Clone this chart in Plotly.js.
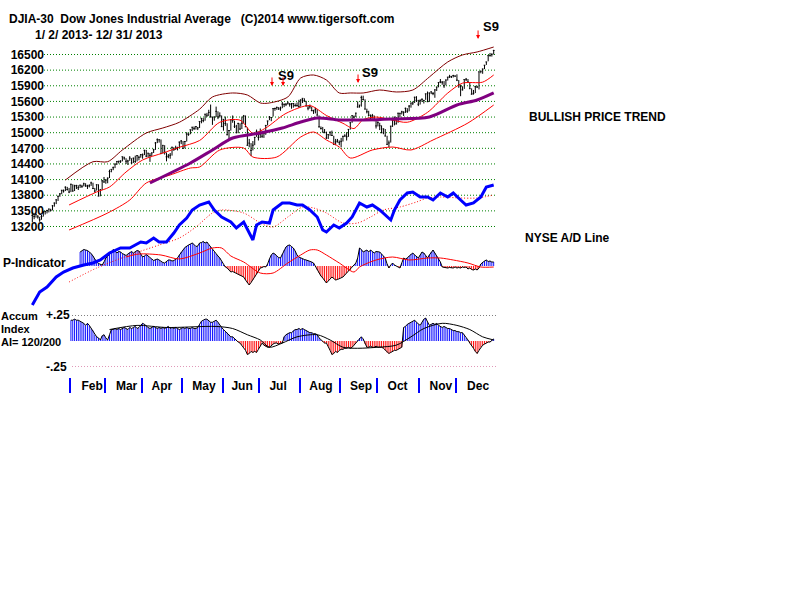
<!DOCTYPE html>
<html><head><meta charset="utf-8">
<script src="https://cdn.plot.ly/plotly-3.0.1.min.js"></script>
<style>html,body{margin:0;padding:0;background:#fff}#chart{width:800px;height:600px}</style>
</head><body><div id="chart"></div>
<script>
// ---------- DATA (trading-day index 0 = 1/2/2013 ... 251 = 12/31/2013) ----------
const closes = [
13412,13391,13435,13384,13329,13390,13471,13488,13507,13535,13511,13597,13650,13712,13780,13825,13896,13882,13954,13910,13861,
14010,13880,13979,13986,13944,13993,13971,14019,13982,13973,13982,14036,13928,13881,14001,13784,13900,14076,14054,
14090,14128,14254,14296,14329,14397,14448,14451,14455,14539,14515,14453,14456,14512,14421,14512,14448,14560,14527,14579,
14573,14662,14550,14607,14565,14613,14673,14803,14865,14865,14599,14757,14619,14537,14548,14567,14720,14677,14701,14713,14819,14840,
14700,14831,14974,14969,15056,15105,15083,15118,15091,15215,15275,15233,15355,15335,15388,15307,15295,15303,15409,15302,15325,15116,
15255,15177,14961,15041,15248,15239,15123,15000,15177,15071,15180,15319,15113,14758,14800,14660,14760,14910,15024,14910,
14975,14932,14988,15136,15225,15300,15291,15461,15464,15484,15452,15471,15548,15543,15545,15568,15543,15556,15559,15521,15520,15500,
15628,15659,15612,15518,15470,15498,15425,15419,15451,15337,15112,15081,15010,15002,14897,14963,15010,14946,14776,14825,14840,14810,
14834,14930,14938,14922,15063,15191,15327,15300,15376,15494,15530,15676,15636,15452,15402,15335,15274,15329,15258,15130,
15192,15134,15000,15073,14936,14776,14803,15126,15237,15301,15168,15374,15372,15400,15392,15467,15413,15509,15570,15569,15680,15619,15546,
15616,15639,15618,15746,15594,15761,15784,15751,15822,15876,15962,15976,15968,15900,16010,16065,16073,16073,16097,16086,
16008,15915,15889,15821,16020,16025,15973,15844,15739,15755,15884,15875,16168,16179,16221,16294,16358,16479,16479,16505,16577];
const highs = [
13480,13430,13440,13420,13385,13420,13500,13500,13520,13540,13540,13610,13660,13720,13790,13840,13900,13910,13970,13960,13940,
14020,14010,14000,14000,13990,14000,14000,14040,14030,14000,14010,14060,14040,13940,14010,14010,13920,14090,14150,
14110,14140,14290,14300,14350,14410,14450,14460,14470,14540,14540,14510,14480,14550,14510,14520,14560,14570,14560,14590,
14600,14670,14670,14610,14610,14620,14690,14820,14890,14870,14870,14760,14760,14620,14590,14610,14730,14720,14750,14730,14830,14860,
14840,14840,15010,14990,15060,15110,15120,15120,15110,15220,15280,15280,15360,15380,15440,15540,15300,15310,15500,15410,15390,15330,
15260,15310,15180,15050,15260,15330,15230,15150,15190,15180,15310,15340,15330,15100,14880,14800,14840,14920,15060,15020,
15080,15000,15010,15150,15230,15320,15300,15470,15480,15500,15490,15500,15590,15560,15570,15600,15570,15570,15570,15560,15580,15630,
15640,15660,15660,15610,15520,15540,15500,15440,15480,15450,15330,15120,15110,15070,15020,14970,15020,15040,14940,14880,14880,14850,
14900,14940,14970,15010,15070,15200,15330,15330,15380,15600,15530,15710,15710,15640,15460,15420,15350,15360,15330,15260,
15220,15190,15140,15080,15070,14940,14850,15130,15250,15300,15300,15380,15380,15420,15410,15480,15470,15530,15570,15600,15690,15700,15630,
15640,15660,15630,15750,15790,15770,15790,15780,15830,15880,15970,16030,15990,15990,16020,16070,16110,16090,16110,16100,
16120,16010,15920,15890,16020,16050,16030,15970,15850,15820,15900,15900,16170,16190,16230,16300,16360,16480,16530,16520,16590];
const lows = [
13280,13340,13370,13350,13290,13330,13390,13430,13450,13470,13490,13510,13580,13630,13690,13770,13820,13850,13880,13890,13840,
13860,13870,13880,13920,13900,13940,13940,13970,13960,13920,13950,13980,13920,13850,13890,13780,13780,13900,14040,
14020,14030,14130,14240,14280,14320,14380,14410,14420,14450,14480,14400,14380,14460,14400,14420,14420,14450,14470,14520,
14500,14570,14530,14530,14440,14550,14610,14670,14800,14810,14590,14600,14580,14450,14510,14500,14560,14650,14670,14660,14710,14780,
14690,14700,14830,14940,14970,15030,15050,15060,15050,15090,15180,15200,15230,15300,15320,15290,15150,15230,15300,15260,15290,15110,
15040,15130,14950,14880,15040,15190,15090,14990,14990,15050,15070,15180,15110,14750,14720,14550,14660,14760,14920,14850,
14900,14900,14900,14960,15140,15240,15220,15310,15420,15440,15440,15420,15470,15490,15510,15540,15500,15460,15480,15500,15500,15480,
15500,15570,15590,15500,15430,15460,15410,15360,15370,15330,15100,15060,15010,14990,14880,14880,14940,14940,14770,14760,14810,14760,
14720,14830,14920,14850,14920,15060,15190,15270,15300,15480,15480,15500,15620,15450,15370,15320,15260,15270,15220,15080,
15120,15050,14990,14970,14930,14770,14720,14810,15110,15140,15160,15190,15300,15350,15320,15380,15380,15410,15480,15530,15570,15590,15510,
15540,15590,15560,15630,15590,15590,15740,15720,15670,15800,15870,15950,15920,15860,15910,16000,16050,16050,16060,16070,
15990,15860,15700,15810,15840,15990,15960,15840,15730,15730,15760,15860,15830,16140,16130,16220,16300,16370,16460,16460,16500];

const priceTicks = [13200,13500,13800,14100,14400,14700,15000,15300,15600,15900,16200,16500];
const monthNames = ['Feb','Mar','Apr','May','Jun','Jul','Aug','Sep','Oct','Nov','Dec'];
const monthFirstDay = [21,40,60,82,104,124,146,168,188,211,231];
const monthLabelAt = [32.5,51.3,70.5,93.4,114.1,133.7,157,178.8,198.7,222.3,242.5];

// bands (day index, DJIA level)
const upperIdx = [18,33,41,49,62,71,80,91,98,109,117,124,129,139,146,153,160,167,173,180,189,198,207,216,226,234,242,251];
const upperVal = [14092,14443,14443,14668,14994,15090,15200,15450,15685,15762,15723,15570,15570,15685,16050,16107,16011,15762,15762,15762,15819,15781,15819,16069,16357,16491,16549,16644];
const midIdx = [20,35,42,51,60,71,80,91,102,113,120,127,138,151,160,169,175,180,187,195,204,215,226,234,245,251];
const midVal = [13613,13862,13958,14246,14476,14610,14720,14850,15200,15240,14990,15090,15370,15520,15330,15180,15080,15250,15300,15250,15200,15390,15760,15950,15970,16107];
const lowerIdx = [20,41,53,62,75,86,91,102,115,120,133,146,153,160,167,173,185,196,206,218,237,251];
const lowerVal = [13133,13459,13708,14035,14188,14322,14342,14668,14706,14533,14533,14917,15013,14860,14725,14514,14668,14725,14668,14860,15186,15531];
const ma65Idx = [64,86,98,109,124,136,146,155,167,180,196,216,231,242,251];
const ma65Val = [14035,14418,14668,14898,14994,15090,15205,15282,15244,15244,15263,15301,15531,15627,15762];

// NYSE A/D line (relative units) and its moving average
const adIdx = [0,4,8,13,17,22,28,33,37,42,48,53,59,62,66,69,73,77,80,84,87,91,96,99,103,108,111,115,120,122,125,129,131,136,140,144,147,151,155,158,160,164,167,171,174,178,182,185,189,193,195,197,200,204,207,211,215,218,222,226,229,233,236,240,244,247,251];
const adVal = [5,18,23,33,38,42,45,47,50,57,62,62,68,67,72,68,68,77,85,92,100,105,108,100,93,88,82,88,70,85,88,87,100,107,107,105,105,100,93,80,78,85,82,87,93,107,103,105,100,93,90,100,110,117,118,113,113,110,117,113,117,110,105,107,113,123,125];
const adMaIdx = [20,35,53,69,80,89,98,103,115,125,131,139,147,153,160,169,177,184,191,200,209,215,222,233,242,251];
const adMaVal = [28,42,55,65,72,83,97,100,97,86,83,93,103,102,97,87,87,93,100,103,108,112,113,112,112,115];

// P-Indicator, daily from day 26
const pStart = 26;
const pInd = [
140,150,165,160,155,140,125,100,70,40,
25,15,10,40,80,95,120,150,165,150,
130,145,140,125,115,105,120,135,145,130,
140,155,150,120,90,100,115,100,80,70,
55,65,70,60,45,35,30,45,60,60,
50,55,65,80,110,140,160,185,200,210,
220,230,215,195,200,230,235,245,230,240,
215,190,165,140,120,100,80,45,10,-10,
-20,-40,-60,-55,-65,-70,-85,-95,-100,-110,
-140,-170,-190,-165,-140,-110,-80,-50,-20,-15,
-5,-10,20,70,110,130,120,100,85,80,
120,160,190,205,210,195,180,150,110,90,
80,70,65,60,55,45,40,30,-5,-40,
-70,-100,-120,-150,-170,-150,-125,-110,-125,-140,
-135,-125,-115,-110,-90,-70,-50,-40,-10,10,
30,80,180,165,140,150,160,140,160,145,
130,145,140,140,120,100,80,20,-20,10,
30,10,0,-10,-20,30,80,70,80,100,
120,130,110,90,80,110,140,130,100,80,
110,140,160,130,100,80,40,-10,-15,-20,
-20,-15,-20,-20,-10,-20,-15,-20,-10,-15,
-10,-30,-20,-35,-40,-30,-40,-20,20,40,
50,60,45,50,40,40];
const pMaIdx = [51,58,70,80,91,98,103,108,115,124,131,139,146,151,155,160,167,175,178,187,196,205,215,222,229,237,244,251];
const pMaVal = [90,120,110,70,130,180,180,100,40,-70,-70,30,110,160,160,110,30,-60,-10,60,90,60,80,80,60,30,-10,-10];

// Accumulation Index, daily from day 21
const aiStart = 21;
const aiVal = [
0.20,0.20,0.21,0.20,0.20,0.19,0.18,0.17,0.15,0.17,
0.15,0.12,0.10,0.06,0.04,0.03,0.01,0.05,0.06,0.03,
0.01,0.06,0.11,0.11,0.12,0.11,0.12,0.11,0.12,0.13,
0.12,0.11,0.13,0.12,0.13,0.14,0.12,0.13,0.15,0.17,
0.16,0.14,0.13,0.12,0.13,0.14,0.13,0.12,0.13,0.12,
0.13,0.12,0.13,0.14,0.12,0.13,0.12,0.13,0.12,0.11,
0.12,0.13,0.12,0.13,0.12,0.12,0.13,0.12,0.12,0.13,
0.16,0.19,0.20,0.21,0.21,0.19,0.18,0.18,0.19,0.20,
0.18,0.15,0.13,0.11,0.09,0.08,0.06,0.04,0.04,0.02,
0.01,-0.01,-0.02,-0.04,-0.06,-0.09,-0.13,-0.12,-0.10,-0.11,
-0.10,-0.11,-0.08,-0.05,-0.02,-0.04,-0.05,-0.06,-0.06,-0.04,
-0.03,-0.02,-0.02,-0.03,-0.02,-0.02,0.04,0.06,0.07,0.08,
0.08,0.10,0.11,0.11,0.12,0.11,0.12,0.11,0.10,0.09,
0.08,0.08,0.07,0.07,0.06,0.03,0.01,-0.01,-0.02,-0.02,
-0.05,-0.09,-0.13,-0.12,-0.10,-0.11,-0.09,-0.08,-0.08,-0.07,
-0.07,-0.06,-0.07,-0.06,-0.04,-0.02,0.01,0.03,0.04,0.02,
-0.03,-0.06,-0.06,-0.05,-0.06,-0.06,-0.05,-0.06,-0.06,-0.06,
-0.07,-0.09,-0.11,-0.12,-0.11,-0.10,-0.09,-0.09,-0.08,-0.07,
-0.06,0.13,0.14,0.16,0.17,0.18,0.19,0.20,0.18,0.16,
0.15,0.18,0.21,0.22,0.18,0.15,0.16,0.17,0.16,0.17,
0.15,0.14,0.13,0.14,0.13,0.12,0.12,0.11,0.10,0.10,
0.09,0.09,0.08,0.08,0.06,0.03,0.01,-0.02,-0.04,-0.07,
-0.10,-0.12,-0.09,-0.06,-0.04,-0.03,-0.02,-0.01,-0.01,0.01,
0.02];
const aiMaIdx = [42,57,73,100,109,117,124,129,136,144,155,162,169,177,188,198,206,213,223,231,238,245,251];
const aiMaVal = [0.11,0.15,0.13,0.14,0.12,0.06,0.01,-0.06,-0.02,0.04,0.06,0.01,-0.06,-0.07,-0.06,-0.04,0.04,0.12,0.17,0.15,0.11,0.04,0.01];

// S9 signals: [day index of arrow, DJIA level at arrow tip]
const s9Arrows = [[130.4,15896],[136.4,15896],[177.2,15953],[242.5,16798]];
const s9Labels = [[138,16088],[183.7,16164],[249.6,17028]];

// ---------- CHART ----------
const W = 800, H = 600, L = 30, PW = 467;
const px = p => (p - L) / PW;      // pixel column -> paper x
const py = p => 1 - p / H;         // pixel row -> paper y
const FONT = {family:'Liberation Sans, Arial, sans-serif', size:12, color:'#000', weight:'bold'};
const SMALL = Object.assign({}, FONT, {size:11});
const BLUE = '#0000ff', RED = '#ff0000';

const days = closes.map((_, k) => k);
const pX = pInd.map((_, k) => pStart + k);
const aiX = aiVal.map((_, k) => aiStart + k);
const signColor = v => v >= 0 ? BLUE : RED;

const traces = [
  {type:'scatter', mode:'lines', x:upperIdx, y:upperVal, line:{color:'#800000', width:1, shape:'spline', smoothing:0.8}, xaxis:'x', yaxis:'y'},
  {type:'scatter', mode:'lines', x:midIdx, y:midVal, line:{color:RED, width:1, shape:'spline', smoothing:0.8}, xaxis:'x', yaxis:'y'},
  {type:'scatter', mode:'lines', x:lowerIdx, y:lowerVal, line:{color:RED, width:1, shape:'spline', smoothing:0.8}, xaxis:'x', yaxis:'y'},
  {type:'scatter', mode:'lines', x:ma65Idx, y:ma65Val, line:{color:'#800080', width:3, shape:'spline', smoothing:0.8}, xaxis:'x', yaxis:'y'},
  {type:'ohlc', x:days, open:closes, high:highs, low:lows, close:closes, tickwidth:0.45,
   increasing:{line:{color:'#000', width:1}}, decreasing:{line:{color:'#000', width:1}}, xaxis:'x', yaxis:'y'},
  // Accum index (y2)
  {type:'bar', x:aiX, y:aiVal, width:0.5, marker:{color:aiVal.map(signColor), line:{width:0}}, xaxis:'x', yaxis:'y2'},
  {type:'scatter', mode:'lines', x:aiX, y:aiVal, line:{color:'#000', width:1}, xaxis:'x', yaxis:'y2'},
  {type:'scatter', mode:'lines', x:aiMaIdx, y:aiMaVal, line:{color:'#000', width:1, shape:'spline', smoothing:0.8}, xaxis:'x', yaxis:'y2'},
  // P-Indicator (y3)
  {type:'bar', x:pX, y:pInd, width:0.5, marker:{color:pInd.map(signColor), line:{width:0}}, xaxis:'x', yaxis:'y3'},
  {type:'scatter', mode:'lines', x:pX, y:pInd, line:{color:'#000', width:1}, xaxis:'x', yaxis:'y3'},
  {type:'scatter', mode:'lines', x:pMaIdx, y:pMaVal, line:{color:RED, width:1, shape:'spline', smoothing:0.8}, xaxis:'x', yaxis:'y3'},
  // NYSE A/D line (y4)
  {type:'scatter', mode:'lines', x:adMaIdx, y:adMaVal, line:{color:RED, width:1, dash:'1px,2px', shape:'spline', smoothing:0.8}, xaxis:'x', yaxis:'y4'},
  {type:'scatter', mode:'lines', x:adIdx, y:adVal, line:{color:BLUE, width:3}, xaxis:'x', yaxis:'y4'}
];

const shapes = priceTicks.map(v => ({type:'line', layer:'below', xref:'paper', yref:'y', x0:px(44), x1:1, y0:v, y1:v,
  line:{color:'#008000', width:1, dash:'1px,2px'}}));
shapes.push({type:'line', layer:'below', xref:'paper', yref:'y2', x0:px(72), x1:1, y0:0.25, y1:0.25, line:{color:'#000', width:1, dash:'1px,2px'}});
shapes.push({type:'line', layer:'below', xref:'paper', yref:'y2', x0:px(72), x1:1, y0:-0.25, y1:-0.25, line:{color:'#c03070', width:1, dash:'1px,2px'}});

const txt = (t, x, y, font) => ({text:t, xref:'paper', yref:'paper', x:px(x), y:py(y), xanchor:'left', yanchor:'middle',
  showarrow:false, font:font || FONT, borderpad:0});
const annotations = [
  txt('DJIA-30\u00a0\u00a0Dow Jones Industrial Average\u00a0\u00a0\u00a0(C)2014 www.tigersoft.com', 8, 19.5),
  txt('1/ 2/ 2013- 12/ 31/ 2013', 34, 34.5),
  txt('BULLISH PRICE TREND', 528, 117),
  txt('NYSE A/D Line', 524, 238),
  txt('P-Indicator', 2, 263),
  txt('Accum', 0, 315.5, SMALL),
  txt('Index', 0, 328.5, SMALL),
  txt('AI= 120/200', 0, 341.5, SMALL),
  txt('+.25', 45, 315),
  txt('-.25', 45, 367)
];
s9Labels.forEach(([i, v]) => annotations.push({text:'S9', xref:'x', yref:'y', x:i, y:v, showarrow:false,
  font:Object.assign({}, FONT, {size:13}), xanchor:'center', yanchor:'middle', borderpad:0}));
s9Arrows.forEach(([i, v]) => annotations.push({text:'', xref:'x', yref:'y', x:i, y:v, showarrow:true,
  arrowhead:2, arrowsize:0.8, arrowwidth:1, arrowcolor:RED, ax:0, ay:-10}));

const layout = {
  width:W, height:H, margin:{l:L, r:W - L - PW, t:0, b:0, pad:0},
  paper_bgcolor:'#fff', plot_bgcolor:'rgba(0,0,0,0)', showlegend:false, dragmode:false,
  xaxis:{range:[-1.26, 252.8], anchor:'free', position:py(377), showgrid:false, zeroline:false, showline:false,
    tickmode:'array', tickvals:monthLabelAt, ticktext:monthNames, ticks:'', tickfont:FONT, automargin:false,
    minor:{tickmode:'array', tickvals:monthFirstDay.map(d => d - 0.5), ticks:'outside', ticklen:15, tickwidth:2, tickcolor:BLUE, showgrid:false},
    rangeslider:{visible:false}},
  yaxis:{domain:[py(250), py(20)], range:[12749, 17162], anchor:'free', position:px(44), tickmode:'array',
    tickvals:priceTicks, ticktext:priceTicks.map(String), ticks:'', showgrid:false, zeroline:false, showline:false,
    tickfont:FONT, automargin:false},
  yaxis2:{domain:[py(367), py(315)], range:[-0.25, 0.25], visible:false},
  yaxis3:{domain:[py(306), py(226)], range:[-400, 400], visible:false},
  yaxis4:{domain:[py(310), py(170)], range:[0, 140], visible:false},
  shapes:shapes, annotations:annotations
};
Plotly.newPlot('chart', traces, layout, {staticPlot:true, displayModeBar:false});
</script></body></html>
